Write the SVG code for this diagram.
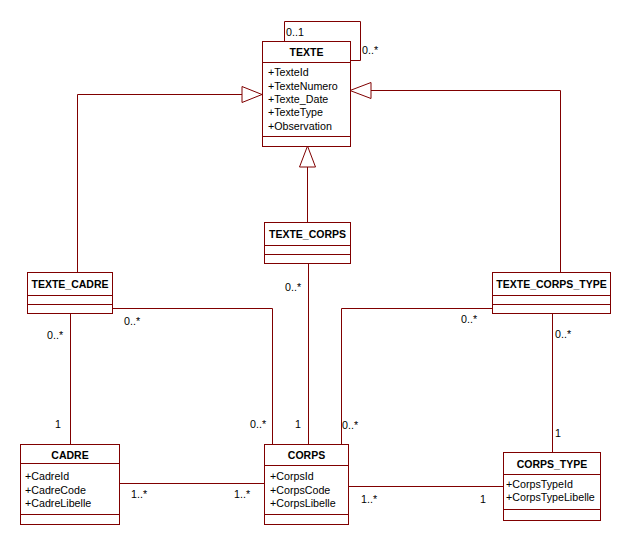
<svg xmlns="http://www.w3.org/2000/svg" width="632" height="545" viewBox="0 0 632 545">
<style>
.box{fill:#fff;stroke:#800000;stroke-width:1}
.sep{stroke:#800000;stroke-width:1}
.ln{fill:none;stroke:#800000;stroke-width:1}
.tri{fill:#fff;stroke:#800000;stroke-width:1}
text{font-family:"Liberation Sans",Arial,sans-serif;font-size:10.7px;fill:#000}
.t{font-weight:bold;font-size:10.5px;text-anchor:middle}
</style>
<rect width="632" height="545" fill="#fff"/>
<g id="connectors">
<polyline class="ln" points="284.5,41 284.5,21.5 360.5,21.5 360.5,60.5 350,60.5"/>
<polyline class="ln" points="77.5,272 77.5,94.5 242,94.5"/>
<polygon class="tri" points="262,94.5 242,86.5 242,102.5"/>
<polyline class="ln" points="307.5,222 307.5,167"/>
<polygon class="tri" points="307.5,146 299.5,167 315.5,167"/>
<polyline class="ln" points="560.5,272 560.5,90.5 371,90.5"/>
<polygon class="tri" points="350,90.5 371,82.5 371,98.5"/>
<line class="ln" x1="70.5" y1="313" x2="70.5" y2="444"/>
<polyline class="ln" points="112,308.5 272.5,308.5 272.5,444"/>
<line class="ln" x1="308.5" y1="263" x2="308.5" y2="444"/>
<polyline class="ln" points="492,308.5 341.5,308.5 341.5,444"/>
<line class="ln" x1="552.5" y1="313" x2="552.5" y2="452"/>
<line class="ln" x1="119" y1="483.5" x2="264" y2="483.5"/>
<line class="ln" x1="348" y1="486.5" x2="503" y2="486.5"/>
<text x="286" y="36">0..1</text>
<text x="362" y="54">0..*</text>
<text x="47" y="339">0..*</text>
<text x="55" y="428">1</text>
<text x="124" y="325">0..*</text>
<text x="250" y="428">0..*</text>
<text x="285" y="291">0..*</text>
<text x="295" y="428">1</text>
<text x="461" y="323">0..*</text>
<text x="342" y="429">0..*</text>
<text x="555" y="338">0..*</text>
<text x="555" y="437">1</text>
<text x="131" y="498">1..*</text>
<text x="234" y="498">1..*</text>
<text x="361" y="503">1..*</text>
<text x="480" y="503">1</text>
</g>
<g id="TEXTE">
<rect class="box" x="262.5" y="41.5" width="88" height="105"/>
<line class="sep" x1="262.5" y1="62.5" x2="350.5" y2="62.5"/>
<line class="sep" x1="262.5" y1="136.5" x2="350.5" y2="136.5"/>
<text class="t" x="306.5" y="56">TEXTE</text>
<text x="268" y="76">+TexteId</text>
<text x="268" y="90">+TexteNumero</text>
<text x="268" y="103">+Texte_Date</text>
<text x="268" y="116">+TexteType</text>
<text x="268" y="130">+Observation</text>
</g>
<g id="TEXTE_CORPS">
<rect class="box" x="264.5" y="222.5" width="86" height="41"/>
<line class="sep" x1="264.5" y1="245.5" x2="350.5" y2="245.5"/>
<line class="sep" x1="264.5" y1="254.5" x2="350.5" y2="254.5"/>
<text class="t" x="307.5" y="237.5">TEXTE_CORPS</text>
</g>
<g id="TEXTE_CADRE">
<rect class="box" x="27.5" y="272.5" width="85" height="41"/>
<line class="sep" x1="27.5" y1="295.5" x2="112.5" y2="295.5"/>
<line class="sep" x1="27.5" y1="304.5" x2="112.5" y2="304.5"/>
<text class="t" x="70" y="287.5">TEXTE_CADRE</text>
</g>
<g id="TEXTE_CORPS_TYPE">
<rect class="box" x="492.5" y="272.5" width="118" height="41"/>
<line class="sep" x1="492.5" y1="295.5" x2="610.5" y2="295.5"/>
<line class="sep" x1="492.5" y1="304.5" x2="610.5" y2="304.5"/>
<text class="t" x="551.5" y="288">TEXTE_CORPS_TYPE</text>
</g>
<g id="CADRE">
<rect class="box" x="20.5" y="444.5" width="99" height="80"/>
<line class="sep" x1="20.5" y1="463.5" x2="119.5" y2="463.5"/>
<line class="sep" x1="20.5" y1="514.5" x2="119.5" y2="514.5"/>
<text class="t" x="70" y="459">CADRE</text>
<text x="25" y="480">+CadreId</text>
<text x="25" y="494">+CadreCode</text>
<text x="25" y="507">+CadreLibelle</text>
</g>
<g id="CORPS">
<rect class="box" x="264.5" y="444.5" width="84" height="80"/>
<line class="sep" x1="264.5" y1="465.5" x2="348.5" y2="465.5"/>
<line class="sep" x1="264.5" y1="514.5" x2="348.5" y2="514.5"/>
<text class="t" x="306.5" y="459">CORPS</text>
<text x="270" y="480">+CorpsId</text>
<text x="270" y="494">+CorpsCode</text>
<text x="270" y="507">+CorpsLibelle</text>
</g>
<g id="CORPS_TYPE">
<rect class="box" x="503.5" y="452.5" width="97" height="68"/>
<line class="sep" x1="503.5" y1="474.5" x2="600.5" y2="474.5"/>
<line class="sep" x1="503.5" y1="509.5" x2="600.5" y2="509.5"/>
<text class="t" x="552" y="468">CORPS_TYPE</text>
<text x="506" y="488">+CorpsTypeId</text>
<text x="506" y="501">+CorpsTypeLibelle</text>
</g>
</svg>
